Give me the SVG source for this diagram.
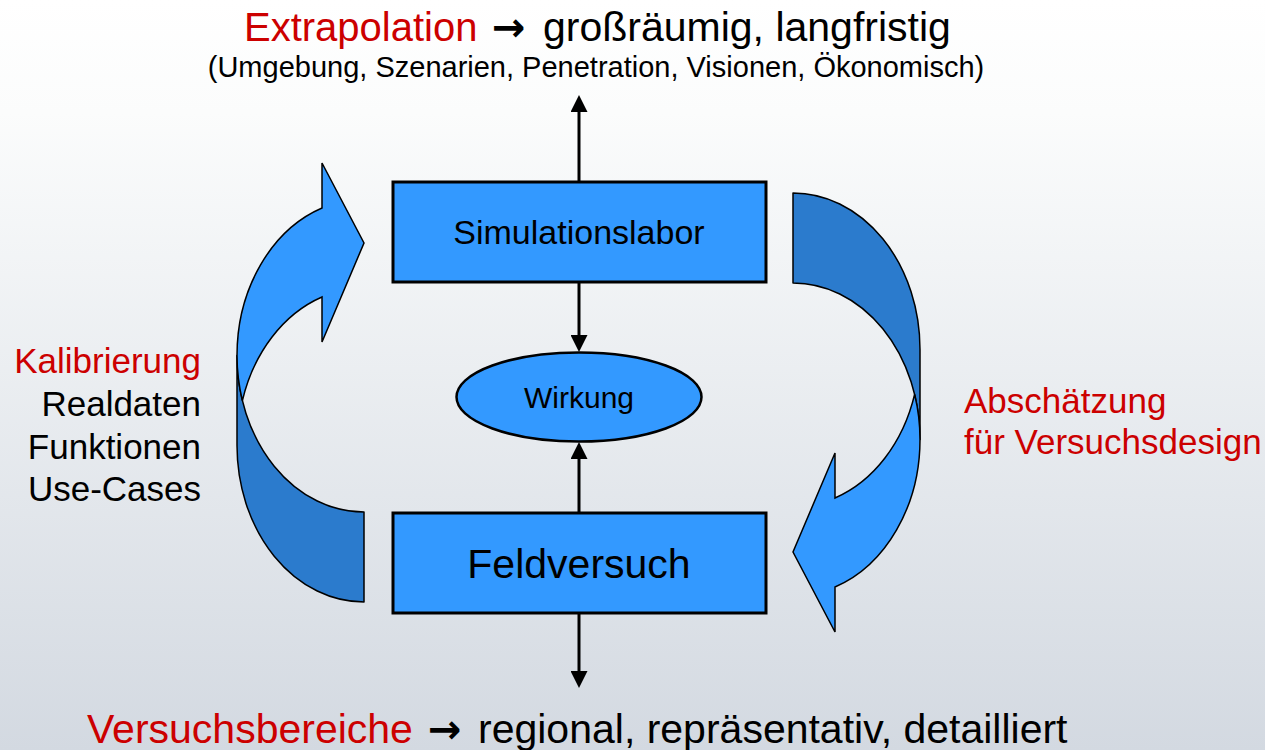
<svg xmlns="http://www.w3.org/2000/svg" width="1265" height="750" viewBox="0 0 1265 750">
  <defs>
    <linearGradient id="bg" x1="0" y1="0" x2="0" y2="1">
      <stop offset="0" stop-color="#FFFFFF"/>
      <stop offset="0.15" stop-color="#FBFCFC"/>
      <stop offset="1" stop-color="#D3D9E1"/>
    </linearGradient>
    <marker id="head" viewBox="0 0 10 10" refX="0" refY="5" markerUnits="userSpaceOnUse" markerWidth="17" markerHeight="17" orient="auto">
      <path d="M0,0 L10,5 L0,10 Z" fill="#000"/>
    </marker>
    <g id="curved">
      <path class="dark" d="M237,445.6 A127,156.4 0 0 0 364,602 L364,512 A127,156.4 0 0 1 237,355.6 Z"/>
      <path class="light" d="M237,355.6 A127,156.4 0 0 1 322,208 L322,163 L364,243 L322,342 L322,297 A127,156.4 0 0 0 242.4,400.6 A127,156.4 0 0 1 237,355.6 Z"/>
    </g>
  </defs>
  <style>
    text { font-family: "Liberation Sans", Arial, sans-serif; fill: #000; }
    .red { fill: #CC0000; }
    .arrowglyph { font-family: "DejaVu Sans", sans-serif; font-weight: bold; }
    .box { fill: #3399FF; stroke: #000; stroke-width: 3; }
    .dark { fill: #2B7BCD; stroke: #000; stroke-width: 1.5; stroke-linejoin: round; }
    .light { fill: #3399FF; stroke: #000; stroke-width: 1.5; stroke-linejoin: miter; }
    .conn { stroke: #000; stroke-width: 3; fill: none; marker-end: url(#head); }
  </style>

  <rect x="0" y="0" width="1265" height="750" fill="url(#bg)"/>

  <g id="title">
    <text y="41" font-size="40"><tspan class="red" x="244">Extrapolation</tspan><tspan class="arrowglyph" x="492" font-size="40">→</tspan><tspan x="543" font-size="41">großräumig, langfristig</tspan></text>
    <text x="596" y="77" font-size="29" text-anchor="middle">(Umgebung, Szenarien, Penetration, Visionen, Ökonomisch)</text>
  </g>

  <g id="curved-left">
    <use href="#curved"/>
  </g>
  <g id="curved-right">
    <use href="#curved" transform="rotate(180 578.5 397.5)"/>
  </g>

  <g id="connectors">
    <line class="conn" x1="579" y1="182" x2="579" y2="112"/>
    <line class="conn" x1="579" y1="282" x2="579" y2="335"/>
    <line class="conn" x1="579" y1="513" x2="579" y2="459"/>
    <line class="conn" x1="579" y1="613" x2="579" y2="671"/>
  </g>

  <g id="simulationslabor">
    <rect class="box" x="393" y="182" width="373" height="100"/>
    <text x="579" y="244" font-size="34" text-anchor="middle">Simulationslabor</text>
  </g>

  <g id="wirkung">
    <ellipse cx="579" cy="397" rx="122.5" ry="44.5" fill="#3399FF" stroke="#000" stroke-width="2.5"/>
    <text x="579" y="408" font-size="30" text-anchor="middle">Wirkung</text>
  </g>

  <g id="feldversuch">
    <rect class="box" x="393" y="513" width="373" height="100"/>
    <text x="579" y="578" font-size="41" text-anchor="middle">Feldversuch</text>
  </g>

  <g id="left-label" font-size="35" text-anchor="end">
    <text class="red" x="201" y="373">Kalibrierung</text>
    <text x="201" y="416">Realdaten</text>
    <text x="201" y="459">Funktionen</text>
    <text x="201" y="501">Use-Cases</text>
  </g>

  <g id="right-label" font-size="35">
    <text class="red" x="964" y="413">Abschätzung</text>
    <text class="red" x="964" y="454">für Versuchsdesign</text>
  </g>

  <g id="bottom-label">
    <text y="743" font-size="41"><tspan class="red" x="87">Versuchsbereiche</tspan><tspan class="arrowglyph" x="428" font-size="40">→</tspan><tspan x="478">regional, repräsentativ, detailliert</tspan></text>
  </g>
</svg>
